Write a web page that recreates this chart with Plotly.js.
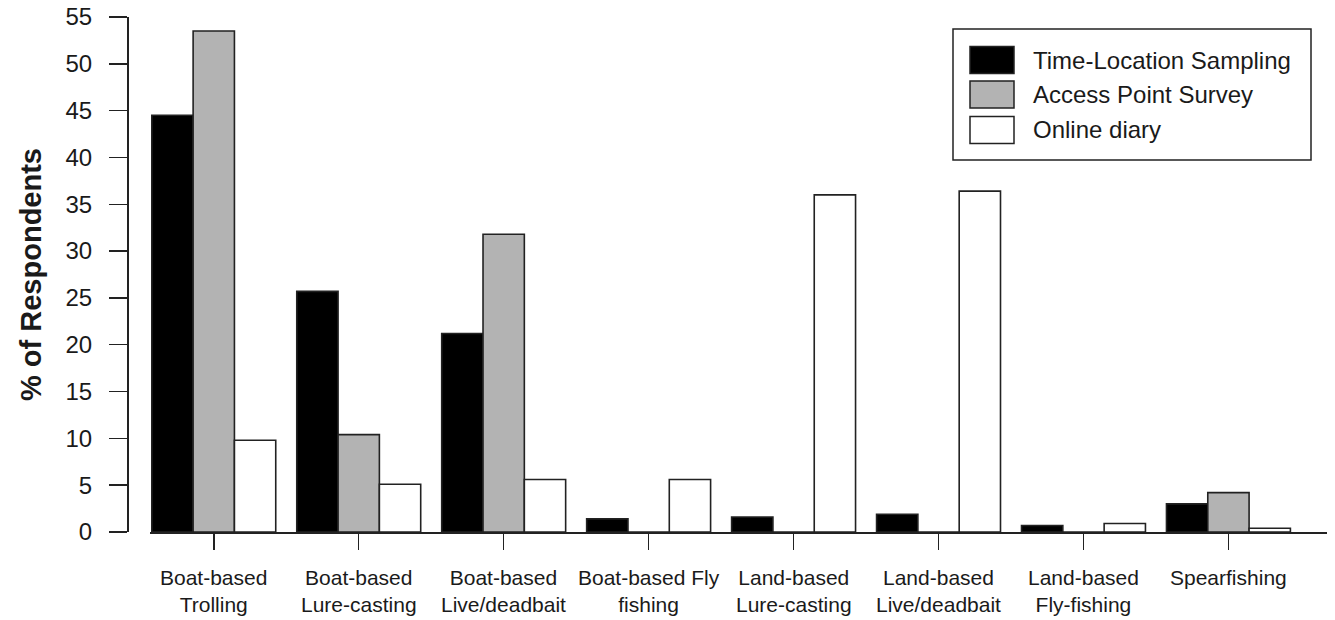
<!DOCTYPE html>
<html>
<head>
<meta charset="utf-8">
<script src="https://cdn.plot.ly/plotly-3.0.1.min.js"></script>
<style>html,body{margin:0;padding:0;background:#fff;}</style>
</head>
<body>
<div id="chart" style="width:1335px;height:620px;"></div>
<script>
// ---- data ----
var categories = ["Boat-based Trolling", "Boat-based Lure-casting", "Boat-based Live/deadbait", "Boat-based Fly fishing",
                  "Land-based Lure-casting", "Land-based Live/deadbait", "Land-based Fly-fishing", "Spearfishing"];
var labelLine1 = ["Boat-based", "Boat-based", "Boat-based", "Boat-based Fly", "Land-based", "Land-based", "Land-based", "Spearfishing"];
var labelLine2 = ["Trolling", "Lure-casting", "Live/deadbait", "fishing", "Lure-casting", "Live/deadbait", "Fly-fishing", ""];
var seriesNames = ["Time-Location Sampling", "Access Point Survey", "Online diary"];
var timeLocation = [44.5, 25.7, 21.2, 1.4, 1.6, 1.9, 0.7, 3.0];
var accessPoint  = [53.5, 10.4, 31.8, 0, 0, 0, 0, 4.2];
var onlineDiary  = [9.8, 5.1, 5.6, 5.6, 36.0, 36.4, 0.9, 0.4];
var yTicks = [0, 5, 10, 15, 20, 25, 30, 35, 40, 45, 50, 55];
var yTitle = "% of Respondents";

// ---- styling ----
var W = 1335, H = 620;
var M = {l: 127, r: 8, t: 17, b: 88};
var PW = W - M.l - M.r, PH = H - M.t - M.b;
function px(x) { return (x - M.l) / PW; }
function py(y) { return (H - M.b - y) / PH; }
var FONT = "Liberation Sans, Arial, sans-serif";
var TXT = "#1a1a1a";
var LINE = "#222";
var colors = ["#000000", "#b3b3b3", "#ffffff"];
var seriesData = [timeLocation, accessPoint, onlineDiary];

var traces = seriesData.map(function (vals, i) {
  return {
    type: "bar",
    name: seriesNames[i],
    x: categories,
    y: vals,
    marker: {color: colors[i], line: {color: LINE, width: 1.6}},
    hoverinfo: "x+y+name"
  };
});

var annotations = [];
categories.forEach(function (c, i) {
  var txt = labelLine2[i] ? labelLine1[i] + "<br>" + labelLine2[i] : labelLine1[i];
  var yc = labelLine2[i] ? 590.5 : 577;
  annotations.push({xref: "x", yref: "paper", x: c, y: py(yc), yanchor: "middle", xanchor: "center",
    text: txt, showarrow: false, align: "center", font: {family: FONT, size: 21, color: TXT}});
});

// custom legend
var shapes = [{type: "rect", xref: "paper", yref: "paper", x0: px(953), x1: px(1311), y0: py(29), y1: py(160),
  line: {color: LINE, width: 1.5}, fillcolor: "#fff", layer: "above"}];
var legY = [60, 94.5, 130];
seriesNames.forEach(function (n, i) {
  shapes.push({type: "rect", xref: "paper", yref: "paper", x0: px(970), x1: px(1014), y0: py(legY[i] + 13.5), y1: py(legY[i] - 13.5),
    line: {color: LINE, width: 1.5}, fillcolor: colors[i], layer: "above"});
  annotations.push({xref: "paper", yref: "paper", x: px(1031), y: py(legY[i]), xanchor: "left", yanchor: "middle",
    text: n, showarrow: false, font: {family: FONT, size: 24, color: TXT}});
});

var layout = {
  width: W, height: H,
  margin: M,
  paper_bgcolor: "#fff", plot_bgcolor: "#fff",
  showlegend: false,
  barmode: "group",
  bargap: 0.145,
  bargroupgap: 0,
  font: {family: FONT, color: TXT},
  xaxis: {
    type: "category",
    domain: [px(150), 1],
    range: [-0.44, 7.68],
    showticklabels: false,
    ticks: "outside", ticklen: 16, tickwidth: 1.5, tickcolor: LINE,
    showline: true, linecolor: LINE, linewidth: 1.5,
    showgrid: false, zeroline: false, fixedrange: true
  },
  yaxis: {
    anchor: "free", position: 0,
    range: [0, 55],
    tickmode: "array", tickvals: yTicks, ticktext: yTicks.map(String),
    ticks: "outside", ticklen: 18, tickwidth: 1.5, tickcolor: LINE,
    ticklabelstandoff: 12,
    tickfont: {family: FONT, size: 24, color: TXT},
    showline: true, linecolor: LINE, linewidth: 1.5,
    showgrid: false, zeroline: false, fixedrange: true,
    title: {text: "<b>" + yTitle + "</b>", font: {family: FONT, size: 29, color: TXT}, standoff: 14}
  },
  shapes: shapes,
  annotations: annotations
};

Plotly.newPlot("chart", traces, layout, {displayModeBar: false, staticPlot: true});
</script>
</body>
</html>
